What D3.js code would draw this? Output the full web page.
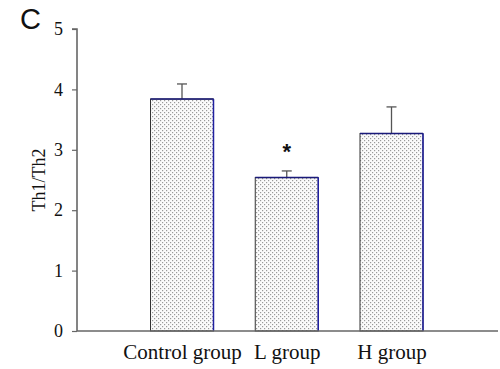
<!DOCTYPE html>
<html><head><meta charset="utf-8">
<script src="https://cdn.jsdelivr.net/npm/d3@7"></script>
<style>body{margin:0;background:#fff}svg{display:block}</style>
</head><body>
<script>
const categories = ["Control group", "L group", "H group"];
const values = [3.84, 2.54, 3.27];
const errors = [0.25, 0.11, 0.44];
const yTicks = [0, 1, 2, 3, 4, 5];
const marks = ["", "*", ""];

const SERIF = "'Liberation Serif', 'Times New Roman', Times, serif";
const SANS = "'Liberation Sans', Arial, Helvetica, sans-serif";
const W = 500, H = 369;
const svg = d3.select("body").append("svg").attr("width", W).attr("height", H);
const defs = svg.append("defs");
const pat = defs.append("pattern").attr("id", "dots").attr("patternUnits", "userSpaceOnUse")
  .attr("width", 4).attr("height", 4);
pat.append("rect").attr("width", 4).attr("height", 4).attr("fill", "#fbfbfb");
pat.append("rect").attr("x", 0).attr("y", 0).attr("width", 1.2).attr("height", 1.2).attr("fill", "#9a9a9a");
pat.append("rect").attr("x", 2).attr("y", 2).attr("width", 1.2).attr("height", 1.2).attr("fill", "#9a9a9a");

const x0 = 77, xEnd = 498;
const y = d3.scaleLinear().domain([0, 5]).range([331, 29]);
const x = d3.scalePoint().domain(categories).range([182, 391.5]);
const bw = 63;

const g = svg.append("g");
categories.forEach((c, i) => {
  const cx = x(c), top = y(values[i]), bot = y(0), et = y(values[i] + errors[i]);
  g.append("line").attr("x1", cx).attr("x2", cx).attr("y1", top).attr("y2", et)
    .attr("stroke", "#555").attr("stroke-width", 1.3);
  g.append("line").attr("x1", cx - 5).attr("x2", cx + 5).attr("y1", et).attr("y2", et)
    .attr("stroke", "#555").attr("stroke-width", 1.3);
  g.append("rect").attr("x", cx - bw / 2).attr("y", top).attr("width", bw).attr("height", bot - top)
    .attr("fill", "url(#dots)").attr("stroke", "#333").attr("stroke-width", 1);
  g.append("line").attr("x1", cx - bw / 2).attr("x2", cx + bw / 2).attr("y1", top).attr("y2", top)
    .attr("stroke", "#1a1a7a").attr("stroke-width", 1.5);
  g.append("line").attr("x1", cx + bw / 2).attr("x2", cx + bw / 2).attr("y1", top).attr("y2", bot)
    .attr("stroke", "#2020a0").attr("stroke-width", 1.5);
  if (marks[i]) {
    g.append("text").style("font-family", SANS).attr("x", cx).attr("y", et - 12)
      .attr("text-anchor", "middle").style("font-size", "22px").style("font-weight", "bold")
      .attr("fill", "#111").text(marks[i]);
  }
});

const yAxis = d3.axisLeft(y).tickValues(yTicks).tickSize(5).tickPadding(9).tickFormat(d3.format("d"));
const ya = svg.append("g").attr("transform", `translate(${x0},0)`).call(yAxis);
ya.select(".domain").attr("stroke", "#666").attr("stroke-width", 1.6).attr("d", `M-5,${y(5)}H0V${y(0)}`);
ya.selectAll(".tick line").attr("stroke", "#666").attr("stroke-width", 1.2);
ya.selectAll(".tick text").style("font-family", SERIF).style("font-size", "18px").attr("fill", "#111");

svg.append("line").attr("x1", x0).attr("x2", xEnd).attr("y1", y(0)).attr("y2", y(0))
  .attr("stroke", "#666").attr("stroke-width", 1.6);

const xAxis = d3.axisBottom(x).tickSize(0).tickPadding(0);
const xa = svg.append("g").attr("transform", `translate(0,${y(0)})`).call(xAxis);
xa.select(".domain").remove();
xa.selectAll(".tick text").style("font-family", SERIF).style("font-size", "21px").attr("fill", "#111")
  .attr("dy", 0).attr("y", 28);

svg.append("text").style("font-family", SERIF).attr("transform", `translate(45,${y(2.5)}) rotate(-90)`)
  .attr("text-anchor", "middle").style("font-size", "18px").attr("fill", "#111").text("Th1/Th2");

svg.append("text").style("font-family", SANS).attr("x", 20).attr("y", 29)
  .style("font-size", "29px").attr("fill", "#111").text("C");
</script>
</body></html>
